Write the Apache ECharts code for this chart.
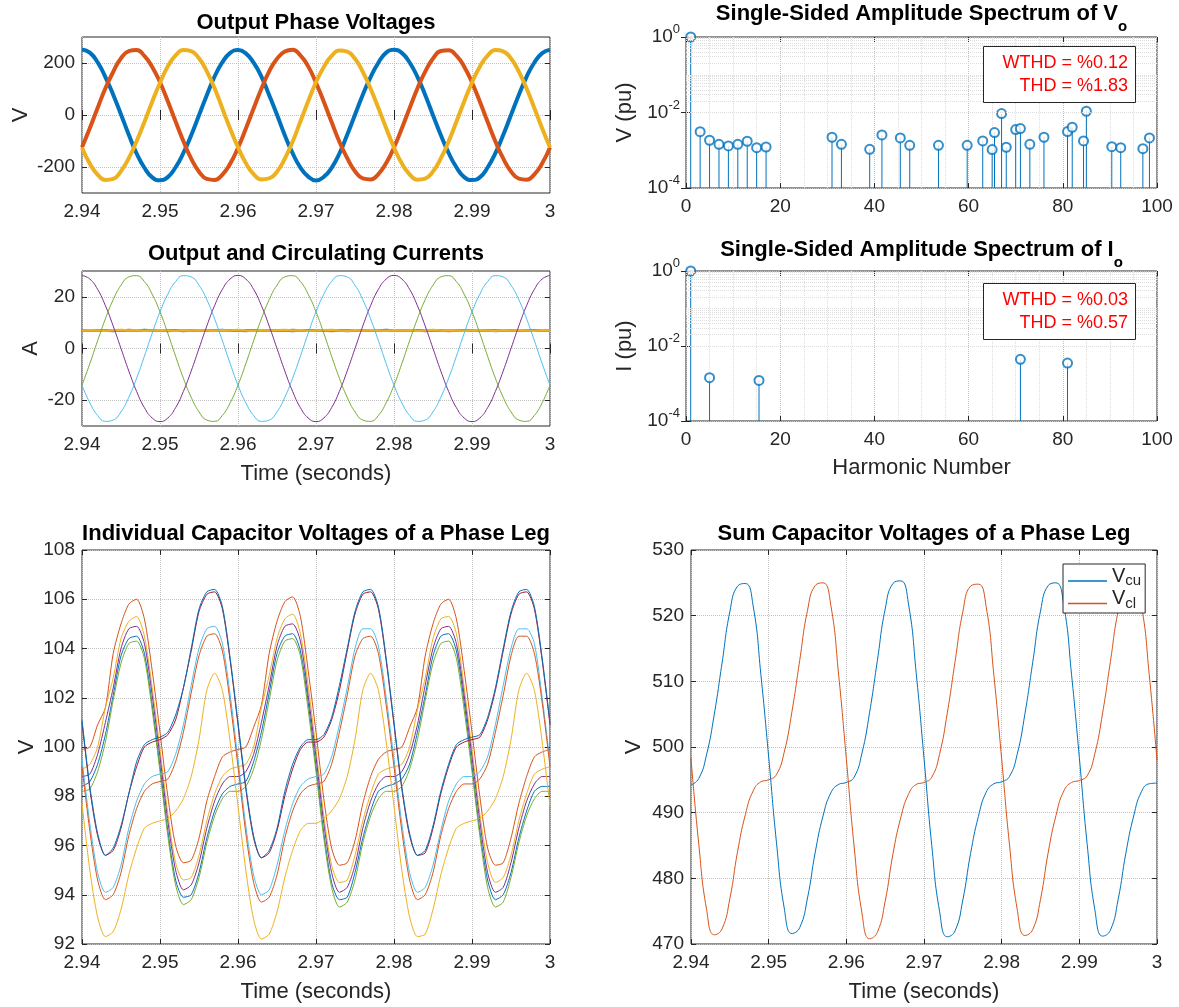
<!DOCTYPE html>
<html>
<head>
<meta charset="utf-8">
<script src="https://cdn.jsdelivr.net/npm/echarts@6/dist/echarts.min.js"></script>
<style>
  html, body { margin: 0; background: #fff; }
  #chart { width: 1179px; height: 1007px; }
</style>
</head>
<body>
<div id="chart"></div>
<script>
// sample instants, 1 ms apart (2.940 ... 3.000 s)
const time = Array.from({ length: 61 }, (_, i) => Math.round((2.94 + i * 0.001) * 1000) / 1000);

// output phase voltages (V)
const vPhaseA = [252, 240, 203, 146, 78, 2, -76, -148, -203, -240, -251, -239, -201, -146, -78, -1, 76, 148, 203, 239,
  250, 237, 201, 148, 76, 1, -78, -147, -202, -237, -252, -238, -203, -148, -76, 1, 78, 146, 201, 240,
  251, 239, 202, 147, 77, -1, -77, -146, -201, -239, -250, -240, -202, -147, -77, 0, 77, 147, 202, 238, 251];
const vPhaseB = [-124, -51, 27, 103, 166, 218, 246, 250, 227, 185, 126, 53, -25, -101, -168, -218, -246, -250, -229, -187,
  -126, -53, 25, 101, 168, 216, 244, 251, 229, 187, 124, 51, -27, -103, -166, -216, -244, -248, -227, -185,
  -125, -52, 26, 102, 167, 217, 246, 249, 228, 186, 125, 52, -26, -102, -167, -217, -245, -249, -228, -186, -125];
const vPhaseC = [-126, -187, -229, -250, -246, -216, -166, -101, -27, 51, 124, 187, 229, 250, 246, 218, 168, 103, 25, -53,
  -124, -185, -227, -248, -244, -218, -168, -103, -25, 53, 126, 185, 227, 248, 244, 216, 166, 101, 27, -51,
  -125, -186, -228, -249, -245, -217, -167, -102, -26, 52, 125, 186, 228, 250, 245, 217, 167, 102, 26, -52, -125];

// circulating currents (A)
const iCircA = [7.0, 6.9, 7.1, 7.0, 6.8, 7.1, 7.0, 6.9, 7.2, 7.0, 6.9, 7.0, 7.1, 6.8, 7.0, 7.1, 6.9, 7.0, 7.2, 6.9,
  7.0, 6.8, 7.1, 7.0, 6.9, 7.1, 7.0, 6.8, 7.0, 7.1, 7.0, 6.9, 7.1, 7.0, 6.8, 7.0, 7.1, 6.9, 7.0, 7.2,
  7.0, 6.9, 7.0, 7.1, 6.8, 7.0, 7.1, 6.9, 7.0, 7.1, 6.9, 7.0, 7.1, 6.8, 7.0, 7.1, 6.9, 7.0, 7.1, 7.0, 6.9];
const iCircB = [7.1, 7.0, 6.9, 7.1, 7.0, 6.9, 7.2, 7.0, 6.9, 7.1, 7.0, 6.8, 7.0, 7.1, 6.9, 7.0, 7.1, 6.9, 7.0, 7.1,
  6.9, 7.1, 7.0, 6.9, 7.1, 7.0, 6.9, 7.2, 7.0, 6.9, 7.1, 7.0, 6.8, 7.0, 7.1, 6.9, 7.0, 7.1, 6.9, 7.0,
  7.1, 6.9, 7.1, 7.0, 6.9, 7.1, 7.0, 6.8, 7.0, 7.1, 7.0, 6.9, 7.0, 7.1, 6.9, 7.0, 7.1, 7.0, 6.9, 7.1, 7.0];
const iCircC = [7.0, 7.1, 7.0, 6.9, 7.1, 7.2, 7.0, 7.1, 6.9, 7.0, 7.1, 7.0, 6.9, 7.1, 7.0, 7.1, 7.0, 6.9, 7.1, 7.0,
  7.2, 7.0, 6.9, 7.1, 7.0, 7.1, 7.2, 7.0, 7.1, 6.9, 7.0, 7.1, 7.2, 7.0, 6.9, 7.1, 7.0, 7.1, 7.0, 6.9,
  7.1, 7.0, 7.1, 6.9, 7.0, 7.2, 7.0, 7.1, 7.0, 6.9, 7.0, 7.1, 7.0, 6.9, 7.1, 7.0, 7.1, 7.0, 6.9, 7.1, 7.0];

// output currents (A)
const iOutA = [28.3, 26.9, 22.9, 16.6, 8.7, 0, -8.7, -16.6, -22.9, -26.9, -28.3, -26.9, -22.9, -16.6, -8.7, 0, 8.7, 16.6, 22.9, 26.9,
  28.3, 26.9, 22.9, 16.6, 8.7, 0, -8.7, -16.6, -22.9, -26.9, -28.3, -26.9, -22.9, -16.6, -8.7, 0, 8.7, 16.6, 22.9, 26.9,
  28.3, 26.9, 22.9, 16.6, 8.7, 0, -8.7, -16.6, -22.9, -26.9, -28.3, -26.9, -22.9, -16.6, -8.7, 0, 8.7, 16.6, 22.9, 26.9, 28.3];
const iOutB = [-14.2, -5.9, 3.0, 11.5, 18.9, 24.5, 27.7, 28.2, 25.9, 21.0, 14.2, 5.9, -3.0, -11.5, -18.9, -24.5, -27.7, -28.2, -25.9, -21.0,
  -14.2, -5.9, 3.0, 11.5, 18.9, 24.5, 27.7, 28.2, 25.9, 21.0, 14.2, 5.9, -3.0, -11.5, -18.9, -24.5, -27.7, -28.2, -25.9, -21.0,
  -14.2, -5.9, 3.0, 11.5, 18.9, 24.5, 27.7, 28.2, 25.9, 21.0, 14.2, 5.9, -3.0, -11.5, -18.9, -24.5, -27.7, -28.2, -25.9, -21.0, -14.2];
const iOutC = [-14.2, -21.0, -25.9, -28.2, -27.7, -24.5, -18.9, -11.5, -3.0, 5.9, 14.2, 21.0, 25.9, 28.2, 27.7, 24.5, 18.9, 11.5, 3.0, -5.9,
  -14.2, -21.0, -25.9, -28.2, -27.7, -24.5, -18.9, -11.5, -3.0, 5.9, 14.2, 21.0, 25.9, 28.2, 27.7, 24.5, 18.9, 11.5, 3.0, -5.9,
  -14.2, -21.0, -25.9, -28.2, -27.7, -24.5, -18.9, -11.5, -3.0, 5.9, 14.2, 21.0, 25.9, 28.2, 27.7, 24.5, 18.9, 11.5, 3.0, -5.9, -14.2];

// spectrum of Vo (harmonic number, pu)
const harmV = [1, 3, 5, 7, 9, 11, 13, 15, 17, 31, 33, 39, 41.6, 45.5, 47.5, 53.6, 59.7, 63, 65, 65.5, 67, 68, 70, 71, 73, 76, 81, 82, 84.4, 85, 90.4, 92.3, 97, 98.4];
const magV = [1.0, 3.1e-3, 1.84e-3, 1.44e-3, 1.3e-3, 1.44e-3, 1.73e-3, 1.17e-3, 1.22e-3, 2.21e-3, 1.44e-3, 1.06e-3, 2.55e-3, 2.12e-3, 1.35e-3, 1.35e-3, 1.35e-3,
  1.76e-3, 1.04e-3, 2.94e-3, 9.4e-3, 1.2e-3, 3.53e-3, 3.75e-3, 1.44e-3, 2.21e-3, 3.12e-3, 4.07e-3, 1.76e-3, 1.08e-2, 1.24e-3, 1.17e-3, 1.1e-3, 2.12e-3];
// spectrum of Io
const harmI = [1, 5, 15.5, 71, 81];
const magI = [1.0, 1.43e-3, 1.21e-3, 4.4e-3, 3.5e-3];

// individual capacitor voltages (V), upper arm then lower arm
const cap1 = [98.4, 98.6, 99.3, 100.5, 102.1, 103.7, 104.4, 104.5, 103.8, 101.7, 99.2, 96.6, 94.6, 93.9, 94.0, 94.9, 96.3, 97.4, 98.1, 98.4,
  98.5, 98.6, 99.4, 100.6, 102.2, 103.8, 104.5, 104.6, 103.9, 101.8, 99.2, 96.5, 94.5, 93.8, 93.9, 94.9, 96.3, 97.4, 98.2, 98.4,
  98.5, 98.7, 99.3, 100.6, 102.1, 103.7, 104.5, 104.6, 103.9, 101.8, 99.2, 96.6, 94.6, 93.8, 94.0, 94.9, 96.3, 97.4, 98.2, 98.4, 98.4];
const cap2 = [99.9, 100.0, 100.9, 101.6, 103.8, 105.0, 105.8, 106.0, 105.2, 103.1, 100.6, 98.0, 96.0, 95.3, 95.4, 96.3, 97.8, 98.8, 99.6, 99.8,
  99.9, 100.0, 100.8, 101.7, 103.8, 105.1, 105.9, 106.1, 105.3, 103.1, 100.6, 97.9, 95.9, 95.2, 95.3, 96.2, 97.7, 98.8, 99.5, 99.8,
  99.9, 100.0, 100.8, 101.6, 103.7, 105.0, 105.8, 106.0, 105.2, 103.1, 100.6, 98.0, 95.9, 95.2, 95.3, 96.3, 97.7, 98.8, 99.6, 99.8, 99.9];
const cap3 = [99.1, 99.3, 100.0, 101.6, 102.8, 104.4, 105.1, 105.3, 104.5, 102.4, 99.9, 97.3, 95.3, 94.6, 94.7, 95.6, 97.0, 98.1, 98.8, 99.1,
  99.2, 99.3, 100.0, 101.6, 102.9, 104.4, 105.2, 105.4, 104.6, 102.5, 99.9, 97.2, 95.2, 94.5, 94.6, 95.6, 97.0, 98.1, 98.9, 99.1,
  99.2, 99.3, 100.0, 101.5, 102.8, 104.4, 105.2, 105.3, 104.6, 102.4, 99.9, 97.3, 95.3, 94.5, 94.7, 95.6, 97.0, 98.1, 98.9, 99.1, 99.2];
const cap4 = [98.8, 98.9, 99.7, 101.0, 102.4, 104.0, 104.8, 104.9, 104.2, 102.1, 99.6, 97.0, 95.0, 94.2, 94.4, 95.3, 96.7, 97.8, 98.5, 98.8,
  98.8, 99.0, 99.7, 101.0, 102.5, 104.1, 104.9, 105.0, 104.3, 102.1, 99.6, 96.9, 94.9, 94.1, 94.3, 95.2, 96.7, 97.8, 98.5, 98.8,
  98.8, 99.0, 99.7, 100.9, 102.5, 104.0, 104.8, 104.9, 104.2, 102.1, 99.6, 97.0, 94.9, 94.1, 94.3, 95.3, 96.7, 97.8, 98.5, 98.8, 98.8];
const cap5 = [98.2, 98.3, 99.0, 100.2, 101.9, 103.4, 104.2, 104.3, 103.6, 101.5, 99.0, 96.4, 94.4, 93.6, 93.8, 94.7, 96.1, 97.2, 97.9, 98.2,
  98.2, 98.4, 99.1, 100.3, 101.9, 103.5, 104.3, 104.4, 103.7, 101.5, 99.0, 96.3, 94.3, 93.5, 93.7, 94.6, 96.1, 97.2, 97.9, 98.2,
  98.2, 98.4, 99.1, 100.3, 101.9, 103.4, 104.2, 104.3, 103.6, 101.5, 99.0, 96.4, 94.3, 93.5, 93.7, 94.7, 96.1, 97.2, 97.9, 98.2, 98.2];
const cap6 = [99.5, 96.9, 94.9, 94.1, 94.3, 95.2, 96.7, 97.8, 98.5, 98.8, 98.9, 99.0, 99.7, 100.9, 102.5, 104.0, 104.8, 104.9, 104.2, 102.1,
  99.5, 96.8, 94.8, 94.0, 94.2, 95.2, 96.6, 97.7, 98.4, 98.7, 98.8, 98.9, 99.6, 100.9, 102.4, 104.0, 104.8, 104.8, 104.1, 102.0,
  99.5, 96.9, 94.9, 94.1, 94.3, 95.2, 96.6, 97.8, 98.5, 98.8, 98.8, 99.0, 99.6, 100.9, 102.5, 104.0, 104.8, 104.8, 104.2, 102.0, 99.4];
const cap7 = [101.0, 98.3, 96.4, 95.6, 95.8, 96.7, 98.1, 99.2, 100.0, 100.2, 100.3, 100.5, 101.1, 102.4, 103.9, 105.5, 106.2, 106.3, 105.6, 103.5,
  100.9, 98.3, 96.3, 95.5, 95.7, 96.6, 98.0, 99.1, 99.9, 100.2, 100.2, 100.4, 101.1, 102.3, 103.9, 105.4, 106.2, 106.3, 105.6, 103.5,
  100.9, 98.3, 96.4, 95.6, 95.7, 96.7, 98.1, 99.2, 100.0, 100.2, 100.3, 100.4, 101.1, 102.3, 103.9, 105.4, 106.2, 106.3, 105.6, 103.5, 100.9];
const cap8 = [101.1, 98.4, 96.5, 95.6, 95.9, 96.8, 98.1, 99.4, 100.1, 100.3, 100.4, 100.6, 101.3, 102.4, 104.0, 105.6, 106.3, 106.4, 105.7, 103.6,
  101.0, 98.4, 96.4, 95.5, 95.8, 96.7, 98.2, 99.3, 100.0, 100.3, 100.3, 100.5, 101.2, 102.5, 104.0, 105.5, 106.3, 106.4, 105.7, 103.6,
  101.0, 98.4, 96.5, 95.6, 95.8, 96.8, 98.2, 99.3, 100.1, 100.3, 100.4, 100.5, 101.2, 102.4, 104.0, 105.5, 106.3, 106.4, 105.7, 103.6, 101.0];
const cap9 = [99.2, 96.6, 94.6, 93.8, 94.0, 94.9, 96.4, 97.5, 98.2, 98.5, 98.6, 98.7, 99.4, 100.6, 102.2, 103.7, 104.5, 104.6, 103.9, 101.8,
  99.2, 96.5, 94.5, 93.7, 93.9, 94.8, 96.3, 97.4, 98.1, 98.4, 98.5, 98.6, 99.3, 100.6, 102.1, 103.7, 104.4, 104.5, 103.8, 101.7,
  99.2, 96.6, 94.6, 93.8, 94.0, 94.9, 96.4, 97.5, 98.2, 98.5, 98.5, 98.7, 99.3, 100.6, 102.1, 103.7, 104.5, 104.5, 103.8, 101.8, 99.2];
const cap10 = [97.7, 95.0, 93.1, 92.3, 92.5, 93.4, 94.8, 95.9, 96.7, 96.9, 97.0, 97.1, 97.4, 97.9, 98.8, 100.3, 102.3, 103.0, 102.3, 100.2,
  97.6, 95.0, 93.0, 92.2, 92.4, 93.3, 94.7, 95.8, 96.6, 96.9, 96.9, 97.1, 97.4, 97.9, 98.8, 100.3, 102.3, 103.0, 102.3, 100.2,
  97.6, 95.0, 93.1, 92.3, 92.4, 93.4, 94.8, 95.9, 96.7, 96.9, 97.0, 97.1, 97.4, 97.9, 98.8, 100.3, 102.3, 103.0, 102.3, 100.2, 97.6];

// arm sums of capacitor voltages (V)
const vCu = [494.2, 495.2, 498.8, 505.0, 512.8, 520.6, 524.5, 524.9, 521.5, 511.0, 498.5, 485.5, 475.5, 471.6, 472.5, 477.0, 484.0, 489.5, 493.0, 494.3,
  494.6, 495.4, 499.0, 505.3, 513.2, 521.0, 524.9, 525.3, 521.8, 511.2, 498.3, 485.0, 475.0, 471.1, 472.0, 476.7, 483.8, 489.4, 493.1, 494.4,
  494.7, 495.5, 498.9, 505.1, 512.9, 520.7, 524.6, 525.0, 521.6, 511.0, 498.4, 485.3, 475.2, 471.2, 472.1, 476.8, 483.9, 489.5, 493.2, 494.4, 494.5];
const vCl = [498.3, 485.2, 475.3, 471.4, 472.3, 476.9, 484.1, 489.7, 493.3, 494.7, 495.0, 495.8, 499.2, 505.4, 513.2, 520.8, 524.6, 525.0, 521.6, 511.1,
  498.2, 484.9, 474.8, 470.8, 471.8, 476.5, 483.7, 489.2, 492.8, 494.3, 494.6, 495.4, 498.9, 505.2, 513.0, 520.6, 524.5, 524.8, 521.4, 510.9,
  498.2, 485.2, 475.3, 471.3, 472.2, 476.8, 484.0, 489.6, 493.3, 494.6, 494.9, 495.6, 499.0, 505.2, 513.0, 520.7, 524.6, 524.9, 521.5, 511.0, 498.0];

const FONT = 'Liberation Sans';
const INK = '#262626';
const GRID_C = '#c2c2c2';
const MINOR_C = '#dedede';
const COL = { blue: '#0072BD', orange: '#D95319', yellow: '#EDB120', purple: '#7E2F8E', green: '#77AC30', cyan: '#4DBEEE', wine: '#A2142F' };

// log-axis minor grid positions (2..9 per decade, odd decades as minors)
const logMinor = [];
for (let e = -4; e < 0; e++) {
  for (let m = 1; m <= 9; m++) {
    if (m === 1 && e % 2 === 0) continue;
    logMinor.push(m * Math.pow(10, e));
  }
}

const zip = (ys) => ys.map((v, i) => [time[i], v]);

const tick = () => ({ inside: true, length: 5, lineStyle: { color: INK, width: 1 } });
const label = (margin) => ({ color: INK, fontSize: 19, fontFamily: FONT, margin });
const nameStyle = { color: INK, fontSize: 22, fontFamily: FONT };
const gridLine = () => ({ show: true, lineStyle: { color: GRID_C, type: 'dotted', width: 1 } });

function xTime(gi, withName) {
  return {
    type: 'value', gridIndex: gi, min: 2.94, max: 3, interval: 0.01,
    axisLine: { show: false }, axisTick: tick(), axisLabel: label(9),
    splitLine: gridLine(),
    name: withName ? 'Time (seconds)' : '', nameLocation: 'middle', nameGap: 37,
    nameTextStyle: nameStyle, nameMoveOverlap: false
  };
}

function xHarm(gi, withName) {
  return {
    type: 'value', gridIndex: gi, min: 0, max: 100, interval: 20,
    axisLine: { show: false }, axisTick: tick(), axisLabel: label(9),
    splitLine: gridLine(),
    minorTick: { show: false, splitNumber: 4 },
    minorSplitLine: { show: true, lineStyle: { color: MINOR_C, type: 'dotted', width: 1 } },
    name: withName ? 'Harmonic Number' : '', nameLocation: 'middle', nameGap: 36,
    nameTextStyle: nameStyle, nameMoveOverlap: false
  };
}

function yLin(gi, min, max, interval, ticks, name, gap) {
  const ax = {
    type: 'value', gridIndex: gi, min, max, interval,
    axisLine: { show: false }, axisTick: tick(), axisLabel: label(7),
    splitLine: gridLine(),
    name, nameLocation: 'middle', nameGap: gap, nameTextStyle: nameStyle, nameMoveOverlap: false
  };
  if (ticks) {
    ax.axisTick.customValues = ticks;
    ax.axisLabel.customValues = ticks;
  }
  return ax;
}

function yLog(gi, name, gap) {
  return {
    type: 'log', logBase: 100, gridIndex: gi, min: 1e-4, max: 1,
    axisLine: { show: false }, axisTick: tick(),
    axisLabel: {
      margin: 6,
      formatter: (v) => '{b|10}{s|' + Math.round(Math.log10(v)) + '}',
      rich: {
        b: { fontSize: 19, fontFamily: FONT, color: INK, lineHeight: 28, verticalAlign: 'middle' },
        s: { fontSize: 13, fontFamily: FONT, color: INK, lineHeight: 12, verticalAlign: 'top' }
      }
    },
    splitLine: gridLine(),
    name, nameLocation: 'middle', nameGap: gap, nameTextStyle: nameStyle, nameMoveOverlap: false
  };
}

function mirror(ax, pos) {
  return Object.assign({}, ax, {
    position: pos, name: '', axisLabel: { show: false },
    splitLine: { show: false }, minorSplitLine: { show: false }
  });
}

function line(name, ys, color, gi, width, smooth) {
  return {
    name, type: 'line', xAxisIndex: gi, yAxisIndex: gi, data: zip(ys),
    symbol: 'none', smooth, silent: true,
    lineStyle: { color, width }, itemStyle: { color }
  };
}

function spectrum(gi, harm, mag) {
  const pts = harm.map((h, i) => [h, mag[i]]);
  return [
    {
      type: 'line', xAxisIndex: gi, yAxisIndex: gi, data: [], z: 1, silent: true,
      markLine: {
        silent: true, symbol: ['none', 'none'], label: { show: false },
        lineStyle: { color: MINOR_C, type: 'dotted', width: 1 },
        data: logMinor.map((v) => ({ yAxis: v }))
      }
    },
    {
      type: 'custom', xAxisIndex: gi, yAxisIndex: gi, data: pts, silent: true,
      renderItem: (params, api) => {
        const top = api.coord([api.value(0), api.value(1)]);
        const base = api.coord([api.value(0), 1e-4]);
        return {
          type: 'line',
          shape: { x1: top[0], y1: top[1], x2: base[0], y2: base[1] },
          style: { stroke: COL.blue, lineWidth: 1 }
        };
      }
    },
    {
      type: 'scatter', xAxisIndex: gi, yAxisIndex: gi, data: pts, silent: true,
      symbol: 'emptyCircle', symbolSize: 9, z: 3,
      itemStyle: { color: COL.blue, borderColor: COL.blue, borderWidth: 1 }
    }
  ];
}

const titleStyle = { fontSize: 22, fontWeight: 'bold', color: '#000', fontFamily: FONT, lineHeight: 22 };
const subTitle = (main, sub) => ({
  text: '{t|' + main + '}{s|' + sub + '}',
  textStyle: {
    rich: {
      t: { fontSize: 22, fontWeight: 'bold', color: '#000', fontFamily: FONT, lineHeight: 22, verticalAlign: 'top' },
      s: { fontSize: 15, fontWeight: 'bold', color: '#000', fontFamily: FONT, lineHeight: 47, verticalAlign: 'middle' }
    }
  }
});

const xAxes = [xTime(0, false), xTime(1, true), xHarm(2, false), xHarm(3, true), xTime(4, true), xTime(5, true)];
const yAxes = [
  yLin(0, -300, 300, 100, [-200, 0, 200], 'V', 50),
  yLin(1, -30, 30, 10, [-20, 0, 20], 'A', 40),
  yLog(2, 'V (pu)', 50),
  yLog(3, 'I (pu)', 50),
  yLin(4, 92, 108, 2, null, 'V', 44),
  yLin(5, 470, 530, 10, null, 'V', 46)
];

const chart = echarts.init(document.getElementById('chart'), null, { renderer: 'canvas' });

chart.setOption({
  animation: false,
  backgroundColor: '#fff',
  textStyle: { fontFamily: FONT },
  grid: [
    { left: 82, top: 37, width: 468, height: 156 },
    { left: 82, top: 271, width: 468, height: 155 },
    { left: 686, top: 37, width: 471, height: 151 },
    { left: 686, top: 271, width: 471, height: 150 },
    { left: 82, top: 550, width: 468, height: 394 },
    { left: 691, top: 550, width: 466, height: 394 }
  ].map((g) => Object.assign(g, { show: true, borderColor: INK, borderWidth: 1, backgroundColor: '#fff', containLabel: false, outerBoundsMode: 'none' })),
  title: [
    { text: 'Output Phase Voltages', left: 316, top: 11.5, textAlign: 'center', padding: 0, textStyle: titleStyle },
    { text: 'Output and Circulating Currents', left: 316, top: 243, textAlign: 'center', padding: 0, textStyle: titleStyle },
    Object.assign({ left: 921.5, top: 3, textAlign: 'center', padding: 0 }, subTitle('Single-Sided Amplitude Spectrum of V', 'o')),
    Object.assign({ left: 921.5, top: 239, textAlign: 'center', padding: 0 }, subTitle('Single-Sided Amplitude Spectrum of I', 'o')),
    { text: 'Individual Capacitor Voltages of a Phase Leg', left: 316, top: 523, textAlign: 'center', padding: 0, textStyle: titleStyle },
    { text: 'Sum Capacitor Voltages of a Phase Leg', left: 924, top: 523, textAlign: 'center', padding: 0, textStyle: titleStyle }
  ],
  legend: {
    data: [
      { name: 'Vcu', itemStyle: { color: COL.blue } },
      { name: 'Vcl', itemStyle: { color: COL.orange } }
    ],
    orient: 'vertical', left: 1063, top: 564,
    icon: 'rect', itemWidth: 39, itemHeight: 1.5, itemGap: 0,
    padding: [2, 4, 2, 5],
    borderColor: INK, borderWidth: 1, backgroundColor: '#fff',
    selectedMode: false,
    formatter: (n) => (n === 'Vcu' ? '{v|V}{s|cu}' : '{v|V}{s|cl}'),
    textStyle: {
      rich: {
        v: { fontSize: 20, fontFamily: FONT, color: INK, lineHeight: 18, verticalAlign: 'top' },
        s: { fontSize: 15, fontFamily: FONT, color: INK, lineHeight: 30, verticalAlign: 'middle' }
      }
    }
  },
  xAxis: xAxes.concat(xAxes.map((a) => mirror(a, 'top'))),
  yAxis: yAxes.concat(yAxes.map((a) => mirror(a, 'right'))),
  graphic: [
    { type: 'rect', z: 100, shape: { x: 983.5, y: 46.5, width: 152, height: 56 }, style: { fill: '#fff', stroke: INK, lineWidth: 1 } },
    { type: 'text', z: 101, x: 1128, y: 51.5, style: { text: 'WTHD = %0.12\nTHD = %1.83', fill: '#ff0000', font: '18px "Liberation Sans"', lineHeight: 23, align: 'right', textAlign: 'right', verticalAlign: 'top', textVerticalAlign: 'top' } },
    { type: 'rect', z: 100, shape: { x: 983.5, y: 283.5, width: 152, height: 56 }, style: { fill: '#fff', stroke: INK, lineWidth: 1 } },
    { type: 'text', z: 101, x: 1128, y: 289, style: { text: 'WTHD = %0.03\nTHD = %0.57', fill: '#ff0000', font: '18px "Liberation Sans"', lineHeight: 23, align: 'right', textAlign: 'right', verticalAlign: 'top', textVerticalAlign: 'top' } }
  ],
  series: [
    line('va', vPhaseA, COL.blue, 0, 4, true),
    line('vb', vPhaseB, COL.orange, 0, 4, true),
    line('vc', vPhaseC, COL.yellow, 0, 4, true),

    line('icA', iCircA, COL.blue, 1, 2.5, false),
    line('icB', iCircB, COL.orange, 1, 2.5, false),
    line('icC', iCircC, COL.yellow, 1, 2.5, false),
    line('ioA', iOutA, COL.purple, 1, 1, true),
    line('ioB', iOutB, COL.green, 1, 1, true),
    line('ioC', iOutC, COL.cyan, 1, 1, true),

    ...spectrum(2, harmV, magV),
    ...spectrum(3, harmI, magI),

    line('c1', cap1, COL.blue, 4, 1, 0.25),
    line('c2', cap2, COL.orange, 4, 1, 0.25),
    line('c3', cap3, COL.yellow, 4, 1, 0.25),
    line('c4', cap4, COL.purple, 4, 1, 0.25),
    line('c5', cap5, COL.green, 4, 1, 0.25),
    line('c6', cap6, COL.cyan, 4, 1, 0.25),
    line('c7', cap7, COL.wine, 4, 1, 0.25),
    line('c8', cap8, COL.blue, 4, 1, 0.25),
    line('c9', cap9, COL.orange, 4, 1, 0.25),
    line('c10', cap10, COL.yellow, 4, 1, 0.25),

    line('Vcu', vCu, COL.blue, 5, 1, true),
    line('Vcl', vCl, COL.orange, 5, 1, true)
  ]
});
</script>
</body>
</html>
